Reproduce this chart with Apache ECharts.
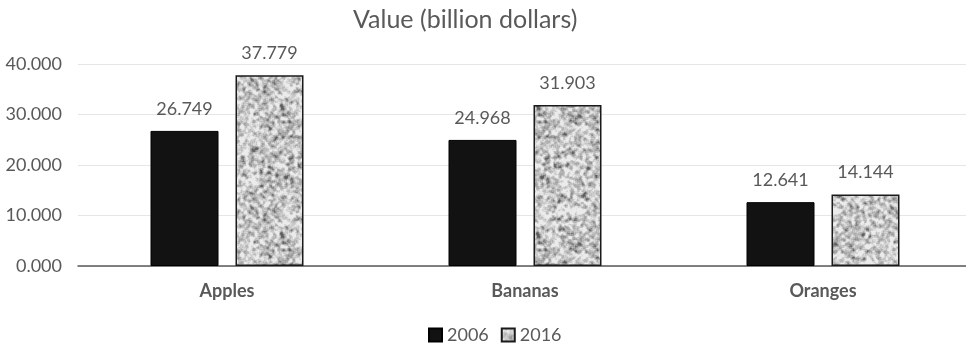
<!DOCTYPE html>
<html>
<head>
<meta charset="utf-8">
<script src="https://cdn.jsdelivr.net/npm/echarts@6/dist/echarts.min.js"></script>
<style>
  html, body { margin: 0; padding: 0; background: #fff; overflow: hidden; }
  /* plot area runs slightly past the right edge of the window */
  #chart { width: 980px; height: 346px; }
</style>
</head>
<body>
<div id="chart"></div>
<script>
// Fruit export value, billion dollars
const categories = ['Apples', 'Bananas', 'Oranges'];
const values2006 = [26.749, 24.968, 12.641];
const values2016 = [37.779, 31.903, 14.144];
const yTicks = [0, 10, 20, 30, 40];

// Speckled grey fill for the 2016 bars (deterministic hash noise, softened)
function speckleTexture() {
  const size = 128;
  const c = document.createElement('canvas');
  c.width = size; c.height = size;
  const ctx = c.getContext('2d');
  const img = ctx.createImageData(size, size);
  function hash(x, y) {
    let h = (x * 374761393 + y * 668265263) | 0;
    h = Math.imul(h ^ (h >>> 13), 1274126177);
    h = h ^ (h >>> 16);
    return (h >>> 0) / 4294967295;
  }
  const raw = [];
  for (let y = 0; y < size; y++) {
    raw.push([]);
    for (let x = 0; x < size; x++) raw[y].push(hash(x + 17, y + 91));
  }
  // weighted smoothing over a 5x5 neighbourhood for soft, blotchy grain
  const r = 2;
  for (let y = 0; y < size; y++) {
    for (let x = 0; x < size; x++) {
      let s = 0, n = 0;
      for (let dy = -r; dy <= r; dy++) for (let dx = -r; dx <= r; dx++) {
        const w = 1 / (1 + dx * dx + dy * dy);
        s += raw[(y + dy + size) % size][(x + dx + size) % size] * w; n += w;
      }
      const v = s / n;
      let g = 198 + (v - 0.5) * 420;
      if (v < 0.4) g -= (0.4 - v) * 350;
      g = Math.max(95, Math.min(235, g));
      const i = (y * size + x) * 4;
      img.data[i] = g; img.data[i + 1] = g; img.data[i + 2] = g; img.data[i + 3] = 255;
    }
  }
  ctx.putImageData(img, 0, 0);
  return c;
}
const speckle = { image: speckleTexture(), repeat: 'repeat' };

const textColor = '#595959';
const font = 'Lato, "Open Sans", sans-serif';
const valueLabel = {
  show: true, position: 'top', distance: 13,
  color: textColor, fontSize: 18, fontFamily: font,
  formatter: p => p.value.toFixed(3)
};

const chart = echarts.init(document.getElementById('chart'));
chart.setOption({
  animation: false,
  backgroundColor: '#fff',
  textStyle: { fontFamily: font },
  title: {
    text: 'Value (billion dollars)',
    left: 348, top: 2,
    textStyle: { color: textColor, fontSize: 25, fontWeight: 'normal', fontFamily: font }
  },
  legend: {
    top: 321, left: 423,
    icon: 'rect',
    itemWidth: 13, itemHeight: 13, itemGap: 12,
    textStyle: { color: textColor, fontSize: 18, fontFamily: font },
    data: ['2006', '2016']
  },
  grid: { left: 78, top: 64, width: 894, height: 202, containLabel: false },
  xAxis: {
    type: 'category',
    data: categories,
    axisLine: { lineStyle: { color: '#595959', width: 1.5 } },
    axisTick: { show: false },
    axisLabel: { color: textColor, fontSize: 18, fontWeight: 'bold', margin: 16, fontFamily: font }
  },
  yAxis: {
    type: 'value',
    min: yTicks[0], max: yTicks[yTicks.length - 1], interval: 10,
    axisLine: { show: false },
    axisTick: { show: false },
    splitLine: { lineStyle: { color: '#e6e6e6', width: 1 } },
    axisLabel: {
      color: textColor, fontSize: 18, margin: 16, fontFamily: font,
      formatter: v => v.toFixed(3)
    }
  },
  series: [
    {
      name: '2006', type: 'bar', data: values2006,
      barWidth: 68, barGap: '25%',
      itemStyle: { color: '#121212', borderColor: '#000', borderWidth: 1 },
      label: valueLabel
    },
    {
      name: '2016', type: 'bar', data: values2016,
      barWidth: 68,
      itemStyle: { color: speckle, borderColor: '#1a1a1a', borderWidth: 1.5 },
      label: valueLabel
    }
  ]
});
</script>
</body>
</html>
